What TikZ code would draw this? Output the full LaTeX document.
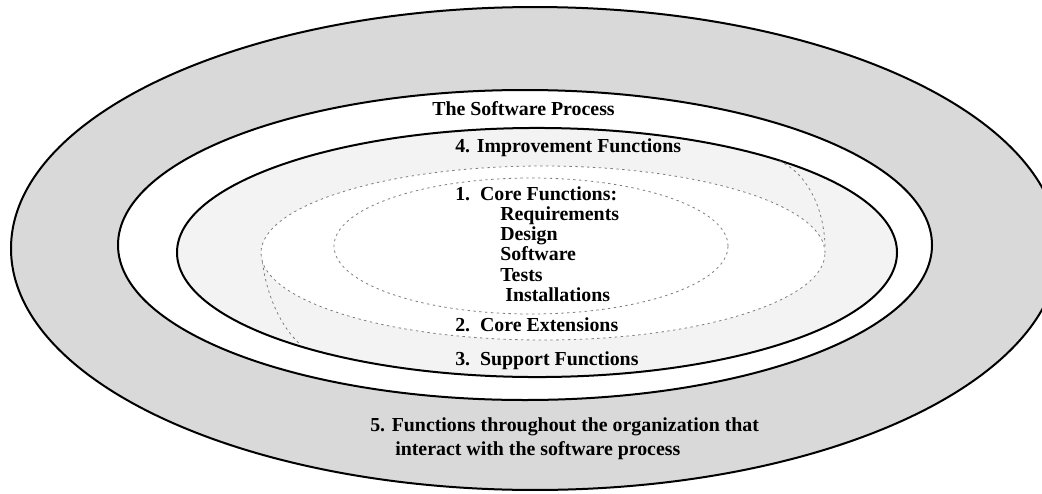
\documentclass[tikz,border=0pt]{standalone}
\usepackage{fontspec}
\setmainfont{Liberation Serif}
\definecolor{ringgray}{RGB}{217,217,217}
\definecolor{coregray}{RGB}{243,243,243}
\definecolor{dashgray}{RGB}{125,125,125}
\begin{document}
\begin{tikzpicture}[x=0.75pt,y=-0.75pt,
  ring/.style={draw=black,line width=1.5pt},
  dashring/.style={draw=dashgray,line width=0.6pt,dash pattern=on 1.8pt off 2.6pt},
  lbl/.style={anchor=base west,inner sep=0pt,font=\fontsize{14.9}{18}\selectfont\bfseries}]
\useasboundingbox (0,0) rectangle (1042,493);
\clip (0,0) rectangle (1042,493);
% organisation-wide ring
\path[ring,fill=ringgray] (535,248.5) ellipse [x radius=393pt,y radius=181.1pt];
% software process band
\path[ring,fill=white] (525,245) ellipse [x radius=305.25pt,y radius=116.25pt];
% support / improvement ring
\path[ring,fill=coregray] (537,252.5) ellipse [x radius=270pt,y radius=93.4pt];
% partial boundaries of the extension region
\coordinate (la) at (262,256);
\coordinate (lb) at (301,345);
\coordinate (ra) at (779,161);
\coordinate (rb) at (825,246);
\draw[dashring] (la) .. controls (264,288) and (279,326) .. (lb);
\draw[dashring] (ra) .. controls (806,172) and (824,207) .. (rb);
% core extensions
\path[dashring,fill=white] (543,253) ellipse [x radius=211.5pt,y radius=65.25pt];
% core functions
\path[dashring] (531,246) ellipse [x radius=147.75pt,y radius=51pt];
% labels
\node[lbl] (sp) at (432,115) {The Software Process};
\node[lbl] (imp) at (455,152) {4. Improvement Functions};
\node[lbl] (core) at (455,200) {1.\ \ Core Functions:};
\node[lbl] (req) at (500,220.3) {Requirements};
\node[lbl] (des) at (500,240.6) {Design};
\node[lbl] (sw) at (500,260.9) {Software};
\node[lbl] (tst) at (500,281.2) {Tests};
\node[lbl] (ins) at (505,301.5) {Installations};
\node[lbl] (ext) at (455,331) {2.\ \ Core Extensions};
\node[lbl] (sup) at (455,365) {3.\ \ Support Functions};
\node[lbl] (org1) at (370,431) {5. Functions throughout the organization that};
\node[lbl] (org2) at (395,455) {interact with the software process};
\end{tikzpicture}
\end{document}
